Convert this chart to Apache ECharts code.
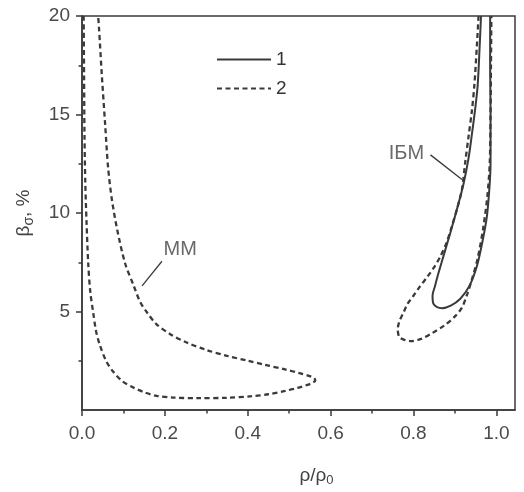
<!DOCTYPE html>
<html>
<head>
<meta charset="utf-8">
<script src="https://cdn.jsdelivr.net/npm/echarts@6/dist/echarts.min.js"></script>
<style>html,body{margin:0;padding:0;background:#fff}#c{width:524px;height:492px}</style>
</head>
<body>
<div id="c"></div>
<script>
// ---- data (x = rho/rho0, y = beta_sigma, %) ----
var xTicks = [0, 0.2, 0.4, 0.6, 0.8, 1.0];
var xMinorTicks = [0.1, 0.3, 0.5, 0.7, 0.9];
var yTicks = [5, 10, 15, 20];
var yMinorTicks = [2.5, 7.5, 12.5, 17.5];
var legendNames = ['1', '2'];

// curve 2 (dashed), MM region
var mmCurve2 = [
  [0.004, 20], [0.005, 17], [0.006, 14], [0.008, 11.5], [0.011, 9.5], [0.015, 7.45],
  [0.020, 6.0], [0.027, 4.95], [0.034, 4.0], [0.043, 3.3], [0.058, 2.5], [0.075, 1.95],
  [0.098, 1.45], [0.123, 1.15], [0.150, 0.9], [0.180, 0.72], [0.220, 0.63], [0.280, 0.6],
  [0.350, 0.62], [0.410, 0.7], [0.450, 0.8], [0.490, 0.97], [0.520, 1.12], [0.542, 1.26],
  [0.556, 1.38], [0.563, 1.5], [0.560, 1.62], [0.548, 1.73], [0.525, 1.87], [0.490, 2.06],
  [0.440, 2.3], [0.400, 2.5],
  [0.350, 2.75], [0.300, 3.05], [0.250, 3.45], [0.213, 3.85], [0.180, 4.35], [0.157, 4.95],
  [0.140, 5.5], [0.125, 6.3], [0.104, 7.45], [0.085, 9.15], [0.072, 10.7], [0.063, 12.3],
  [0.056, 14.45], [0.048, 16.95], [0.041, 19.4], [0.039, 20]
];

// curve 1 (solid), IBM region
var ibmCurve1 = [
  [0.963, 20], [0.960, 18.6], [0.955, 16.5], [0.949, 15.3], [0.941, 14.0], [0.933, 12.8],
  [0.921, 11.5], [0.905, 10.2], [0.889, 9.0], [0.875, 8.0], [0.861, 7.0], [0.852, 6.3],
  [0.846, 5.8], [0.848, 5.4], [0.857, 5.22], [0.869, 5.17], [0.890, 5.3], [0.913, 5.65],
  [0.935, 6.3], [0.953, 7.3], [0.966, 8.5], [0.977, 9.8], [0.983, 11.2], [0.986, 12.5],
  [0.986, 15], [0.985, 17.5], [0.985, 20]
];

// curve 2 (dashed), IBM region
var ibmCurve2 = [
  [0.957, 20], [0.953, 18.5], [0.947, 16.5], [0.941, 15.2], [0.933, 13.9], [0.925, 12.6],
  [0.917, 11.2], [0.905, 10.2], [0.893, 9.35], [0.880, 8.5], [0.865, 7.8], [0.850, 7.25],
  [0.833, 6.75], [0.815, 6.25], [0.800, 5.8], [0.786, 5.4], [0.776, 4.95], [0.766, 4.5],
  [0.762, 4.1], [0.766, 3.7], [0.780, 3.55], [0.796, 3.5], [0.820, 3.62], [0.845, 3.9],
  [0.875, 4.3], [0.900, 4.75], [0.917, 5.2], [0.930, 5.9], [0.942, 6.7], [0.955, 7.7],
  [0.968, 9.2], [0.978, 10.8], [0.984, 12.5], [0.986, 15], [0.987, 17.5], [0.988, 20]
];

// annotations
var mmLabel = { text: 'ММ', at: [0.237, 8.15] };
var mmLeader = [[0.193, 7.55], [0.145, 6.3]];
var ibmLabel = { text: 'ІБМ', at: [0.783, 13.0] };
var ibmLeader = [[0.841, 12.95], [0.917, 11.7]];

var xMin = 0, xMax = 1.045, yMin = 0, yMax = 20;

// ---- chart ----
var ink = '#3a3a3a';
var font = 'Liberation Sans, Arial, sans-serif';
var chart = echarts.init(document.getElementById('c'), null, { renderer: 'canvas' });

function xAxisBase() {
  return { type: 'value', min: xMin, max: xMax, gridIndex: 0, position: 'bottom', splitLine: { show: false } };
}
function yAxisBase() {
  return { type: 'value', min: yMin, max: yMax, gridIndex: 0, position: 'left', splitLine: { show: false } };
}

var option = {
  animation: false,
  backgroundColor: '#fff',
  grid: { left: 82, right: 9, top: 16, bottom: 76, show: true, borderColor: ink, borderWidth: 1.5, backgroundColor: 'transparent' },
  legend: {
    data: legendNames, orient: 'vertical', left: 211, top: 45, itemWidth: 54, itemHeight: 18, itemGap: 10,
    itemStyle: { opacity: 0 },
    textStyle: { fontFamily: font, fontSize: 19, color: '#333' }, selectedMode: false
  },
  xAxis: [
    Object.assign(xAxisBase(), {
      name: '{a|ρ/ρ}{s|0}', nameLocation: 'middle', nameGap: 54,
      nameTextStyle: { fontFamily: font, color: '#444', padding: [0, 0, 0, 36],
        rich: { a: { fontFamily: font, fontSize: 19, color: '#444' }, s: { fontFamily: font, fontSize: 13, color: '#444', padding: [10, 0, 0, 0] } } },
      axisLine: { show: true, lineStyle: { color: ink, width: 1.5 } },
      axisTick: { show: true, inside: false, length: 6, customValues: xTicks, lineStyle: { color: ink, width: 1.5 } },
      axisLabel: { show: true, margin: 14, customValues: xTicks, fontFamily: font, fontSize: 19, color: '#4a4a4a',
        formatter: function (v) { return v.toFixed(1); } }
    }),
    Object.assign(xAxisBase(), {
      axisLine: { show: false },
      axisTick: { show: true, inside: false, length: 3.5, customValues: xMinorTicks, lineStyle: { color: ink, width: 1.5 } },
      axisLabel: { show: false }
    })
  ],
  yAxis: [
    Object.assign(yAxisBase(), {
      name: '{a|β}{s|σ}{a|, %}', nameLocation: 'middle', nameGap: 46,
      nameTextStyle: { fontFamily: font, color: '#444',
        rich: { a: { fontFamily: font, fontSize: 19, color: '#444' }, s: { fontFamily: font, fontSize: 14, color: '#444', padding: [10, 0, 0, 0] } } },
      axisLine: { show: true, lineStyle: { color: ink, width: 1.5 } },
      axisTick: { show: true, inside: false, length: 6, customValues: yTicks, lineStyle: { color: ink, width: 1.5 } },
      axisLabel: { show: true, margin: 12, customValues: yTicks, fontFamily: font, fontSize: 19, color: '#4a4a4a' }
    }),
    Object.assign(yAxisBase(), {
      axisLine: { show: false },
      axisTick: { show: true, inside: false, length: 3.5, customValues: yMinorTicks, lineStyle: { color: ink, width: 1.5 } },
      axisLabel: { show: false }
    })
  ],
  series: [
    { name: '1', type: 'line', data: ibmCurve1, symbol: 'none', smooth: 0.3,
      lineStyle: { color: ink, width: 2, type: 'solid' }, itemStyle: { color: ink }, z: 3 },
    { name: '2', type: 'line', data: mmCurve2, symbol: 'none', smooth: 0.3,
      lineStyle: { color: ink, width: 2.3, type: [5, 3.5] }, itemStyle: { color: ink }, z: 2 },
    { name: '2', type: 'line', data: ibmCurve2, symbol: 'none', smooth: 0.3,
      lineStyle: { color: ink, width: 2.3, type: [5, 3.5] }, itemStyle: { color: ink }, z: 2 },
    { name: 'leaderMM', type: 'line', data: mmLeader, symbol: 'none', silent: true,
      lineStyle: { color: ink, width: 1.3 } },
    { name: 'leaderIBM', type: 'line', data: ibmLeader, symbol: 'none', silent: true,
      lineStyle: { color: ink, width: 1.3 } },
    { name: 'labels', type: 'scatter', silent: true, symbolSize: 1, itemStyle: { color: 'transparent' },
      data: [
        { value: mmLabel.at, name: mmLabel.text },
        { value: ibmLabel.at, name: ibmLabel.text }
      ],
      label: { show: true, position: 'inside', formatter: '{b}', fontFamily: font, fontSize: 20, color: '#444' } }
  ]
};
chart.setOption(option);
</script>
</body>
</html>
